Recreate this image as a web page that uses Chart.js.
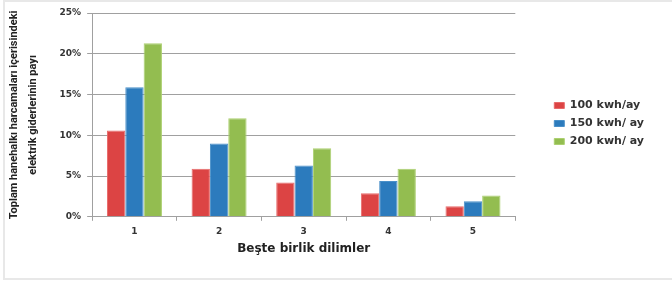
<!DOCTYPE html>
<html>
<head>
<meta charset="utf-8">
<script src="https://cdn.jsdelivr.net/npm/chart.js@4"></script>
<style>
  html, body { margin: 0; padding: 0; background: #fff; }
  #frame { position: absolute; left: 3px; top: 0; width: 672px; height: 276px;
           border-top: 2px solid #e8e8e8; border-left: 2px solid #e8e8e8; border-bottom: 2px solid #e8e8e8; }
  #wrap { position: absolute; left: 0; top: 0; width: 672px; height: 284px; }
</style>
</head>
<body>
<div id="frame"></div>
<div id="wrap"><canvas id="Plot" width="672" height="284"></canvas></div>
<script>
var dilimler = ['1', '2', '3', '4', '5'];
var seri100 = [10.6, 5.9, 4.2, 2.9, 1.3];
var seri150 = [15.9, 9.0, 6.3, 4.4, 1.9];
var seri200 = [21.3, 12.1, 8.4, 5.9, 2.6];
var seriAdlari = ['100 kwh/ay', '150 kwh/ ay', '200 kwh/ ay'];

var ctx = document.getElementById("Plot").getContext('2d');

/* legend sits away from the plot, like the excel original */
var legendShift = {
  id: 'legendShift',
  beforeInit: function(chart) {
    var lg = chart.legend;
    var fit = lg.fit;
    lg.fit = function() {
      fit.call(this);
      this.width += 32;
    };
  },
  afterLayout: function(chart) {
    var lg = chart.legend;
    lg.left += 32; lg.right += 32;
    lg.top -= 13; lg.bottom -= 13;
  }
};

var myChart = new Chart(ctx, {
  type: 'bar',
  data: {
    labels: dilimler,
    datasets: [{
      label: seriAdlari[0],
      data: seri100,
      backgroundColor: '#dc4444',
      borderColor: '#e86a6a',
      borderWidth: 1
    }, {
      label: seriAdlari[1],
      data: seri150,
      backgroundColor: '#2c7bbd',
      borderColor: '#4a90c9',
      borderWidth: 1
    }, {
      label: seriAdlari[2],
      data: seri200,
      backgroundColor: '#93bd50',
      borderColor: '#acd070',
      borderWidth: 1
    }]
  },
  plugins: [legendShift],
  options: {
    responsive: false,
    animation: false,
    datasets: { bar: { categoryPercentage: 0.65, barPercentage: 1 } },
    layout: { padding: { top: 13, left: 4, right: 18, bottom: 24 } },
    plugins: {
      tooltip: { enabled: false },
      legend: {
        position: 'right',
        labels: {
          boxWidth: 10,
          boxHeight: 6,
          padding: 7,
          color: '#333',
          font: { family: 'DejaVu Sans', size: 11, weight: 'bold' }
        }
      }
    },
    scales: {
      y: {
        min: 0,
        max: 25,
        ticks: {
          stepSize: 5,
          padding: 6,
          color: '#333',
          font: { family: 'DejaVu Sans', size: 9, weight: 'bold' },
          callback: function(v) { return v + '%'; }
        },
        grid: { color: '#a0a0a0', tickLength: 5 },
        border: { color: '#a0a0a0' },
        title: {
          display: true,
          text: ['Toplam hanehalkı harcamaları içerisindeki', 'elektrik giderlerinin payı'],
          color: '#222',
          padding: { top: 0, bottom: 10 },
          font: { family: 'Roboto', size: 11, weight: 'bold', lineHeight: 1.8 }
        }
      },
      x: {
        ticks: {
          padding: 5,
          color: '#333',
          font: { family: 'DejaVu Sans', size: 9, weight: 'bold' }
        },
        grid: { drawOnChartArea: false, color: '#a0a0a0', tickLength: 4 },
        border: { color: '#a0a0a0' },
        title: {
          display: true,
          text: 'Beşte birlik dilimler',
          color: '#222',
          padding: { top: 0 },
          font: { family: 'DejaVu Sans', size: 12, weight: 'bold' }
        }
      }
    }
  }
});
</script>
</body>
</html>
